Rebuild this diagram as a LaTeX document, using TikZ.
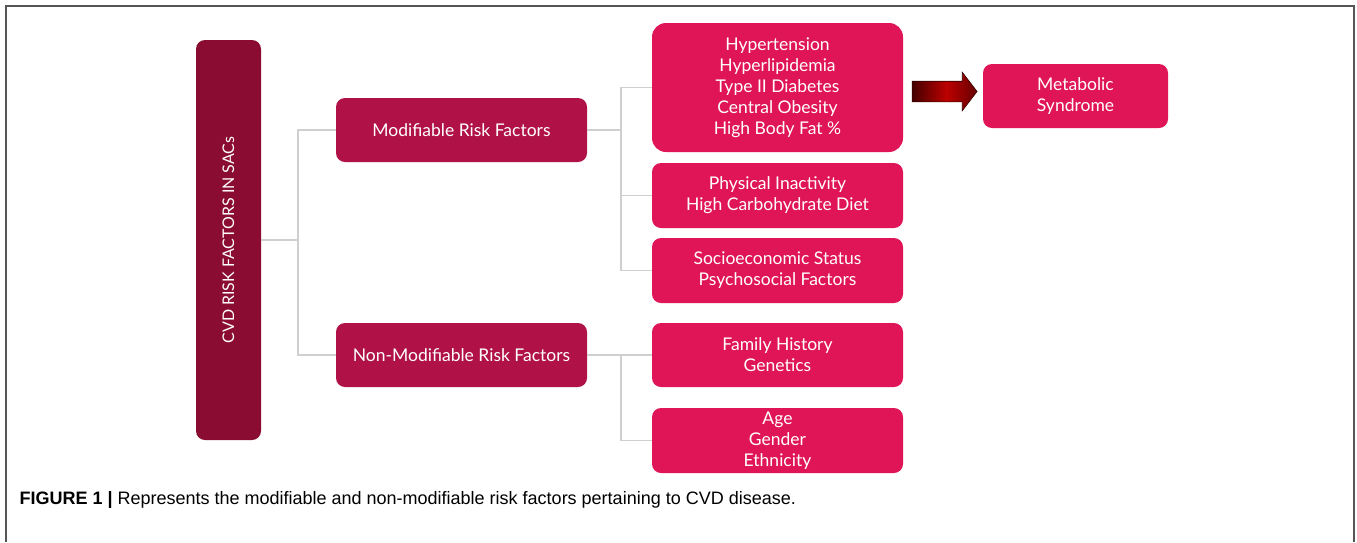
\documentclass[tikz,border=0pt]{standalone}
\usepackage{fontspec}
\setmainfont{Lato}
\newfontfamily\capfont{Liberation Sans}
\usetikzlibrary{arrows.meta, calc, positioning, shapes.arrows}
\definecolor{rootred}{RGB}{138,12,51}
\definecolor{midred}{RGB}{176,18,72}
\definecolor{leafred}{RGB}{224,21,88}
\definecolor{linkgray}{RGB}{207,207,207}
\definecolor{framegray}{RGB}{85,85,85}

\begin{document}
\begin{tikzpicture}[x=1pt, y=-1pt,
    box/.style={rounded corners=9pt, text=white, align=center, inner sep=0pt,
        font=\fontsize{17.5}{21}\selectfont},
    midbox/.style={box, fill=midred, minimum width=251pt, minimum height=64pt},
    leafbox/.style={box, fill=leafred, minimum width=251pt, minimum height=65pt},
    link/.style={draw=linkgray, line width=1.5pt}]
    \useasboundingbox (0,0) rectangle (1357,542);
    \draw[framegray, line width=1.5pt] (6,542) -- (6,6) -- (1354,6) -- (1354,542);

    % root and the two groups
    \node[box, fill=rootred, rotate=90, minimum width=400pt, minimum height=65pt,
        font=\fontsize{16}{18}\selectfont] (root) at (228.5,240) {CVD RISK FACTORS IN SACs};
    \node[midbox] (mod) at (461.5,130) {Modifiable Risk Factors};
    \node[midbox] (nonmod) at (461.5,355) {Non-Modifiable Risk Factors};

    % factors
    \node[leafbox, minimum height=129pt, rounded corners=14pt] (hyp) at (777.5,87.5)
        {Hypertension\\Hyperlipidemia\\Type II Diabetes\\Central Obesity\\High Body Fat \%};
    \node[leafbox] (life) at (777.5,195.5) {Physical Inactivity\\High Carbohydrate Diet};
    \node[leafbox] (socio) at (777.5,270.5) {Socioeconomic Status\\Psychosocial Factors};
    \node[leafbox, minimum height=64pt] (fam) at (777.5,355) {Family History\\Genetics};
    \node[leafbox] (age) at (777.5,440.5) {Age\\Gender\\Ethnicity};
    \node[box, fill=leafred, minimum width=185pt, minimum height=64pt] (met) at (1075.5,96)
        {Metabolic\\Syndrome};

    % tree links
    \coordinate (j0) at (298,240);
    \coordinate (j1) at (621,130);
    \coordinate (j2) at (621,355);
    \draw[link] (root.south) -- (j0);
    \draw[link] (j0) |- (mod.west);
    \draw[link] (j0) |- (nonmod.west);
    \draw[link] (mod.east) -- (j1);
    \foreach \n in {hyp,life,socio} {
        \draw[link] (j1) |- (\n.west);
    }
    \draw[link] (nonmod.east) -- (fam.west);
    \draw[link] (j2) |- (age.west);

    % fat arrow, filled in strips dark - red - dark
    \node[single arrow, inner sep=10pt, minimum height=65pt, single arrow head extend=9pt,
        single arrow tip angle=105, draw=black!80!red, line width=0.6pt,
        path picture={
            \path (path picture bounding box.south west) coordinate (sw)
                (path picture bounding box.north west) coordinate (nw);
            \foreach \i in {0,...,33} {
                \pgfmathtruncatemacro\c{\i<17 ? 28+2.7*\i : 74-2.2*(\i-17)}
                \fill[red!\c!black] ($(sw)+(\i*2pt,0)$) rectangle ($(nw)+(\i*2pt+2.4pt,0)$);
            }
        }]
        (arr) at ($(hyp.east)!0.47!(met.west)$) {};

    \node[anchor=base west, font=\capfont\fontsize{18}{22}\selectfont] (cap) at (16,504)
        {\textbf{FIGURE 1 |} Represents the modifiable and non-modifiable risk factors pertaining to CVD disease.};
\end{tikzpicture}
\end{document}
